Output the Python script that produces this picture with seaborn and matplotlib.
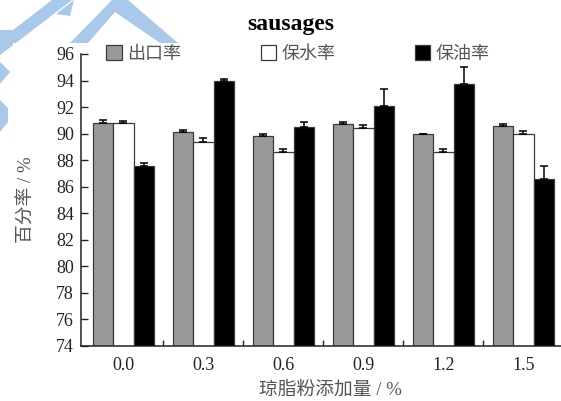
import numpy as np
import pandas as pd
import matplotlib
matplotlib.use('Agg')
import matplotlib.pyplot as plt
from matplotlib.patches import Polygon, Rectangle, Patch
import seaborn as sns

# data
doses = ['0.0', '0.3', '0.6', '0.9', '1.2', '1.5']
metrics = ['出口率', '保水率', '保油率']
yield_rate = [90.8, 90.15, 89.8, 90.7, 89.95, 90.55]
yield_err = [0.2, 0.15, 0.15, 0.15, 0.0, 0.15]
water_rate = [90.8, 89.35, 88.6, 90.45, 88.6, 89.95]
water_err = [0.15, 0.3, 0.25, 0.2, 0.25, 0.25]
oil_rate = [87.55, 93.95, 90.5, 92.1, 93.75, 86.55]
oil_err = [0.25, 0.2, 0.4, 1.25, 1.3, 1.0]
y_ticks = list(range(74, 97, 2))

colors = ['#999999', '#ffffff', '#000000']

sns.set_style('white')
plt.rcParams['font.family'] = ['Liberation Serif', 'Noto Sans CJK SC', 'DejaVu Sans']
plt.rcParams['axes.unicode_minus'] = False

df = pd.DataFrame({
    'dose': doses * 3,
    'metric': [metrics[0]] * 6 + [metrics[1]] * 6 + [metrics[2]] * 6,
    'value': yield_rate + water_rate + oil_rate,
})
errs = [yield_err, water_err, oil_err]

W, H = 561, 401
fig = plt.figure(figsize=(W / 100, H / 100), dpi=100)


def px(pts):
    return [(x / W, 1 - y / H) for x, y in pts]


# light blue watermark in the corner
wm = '#a9c9ea'
shapes = [
    [(0, 40), (52, 0), (72, 0), (0, 55)],
    [(56, 14), (74, 0), (70, 16)],
    [(70, 43), (112, 0), (128, 0), (178, 43), (160, 43), (115, 12), (88, 43)],
    [(0, 62), (10, 72), (0, 84)],
    [(0, 100), (8, 108), (8, 122), (0, 132)],
    [(0, 30), (32, 30), (0, 55)],
]
for s in shapes:
    fig.add_artist(Polygon(px(s), closed=True, transform=fig.transFigure,
                           facecolor=wm, edgecolor='none', zorder=0))
fig.add_artist(Rectangle((13 / W, 0), 1, 1 - 43 / H, transform=fig.transFigure,
                         facecolor='white', edgecolor='none', zorder=0.5))

ax = fig.add_axes([81 / W, 1 - 346 / H, (W - 81) / W, (346 - 54) / H])
ax.set_zorder(2)
ax.patch.set_alpha(0)

sns.barplot(data=df, x='dose', y='value', hue='metric', hue_order=metrics,
            order=doses, palette=colors, edgecolor='#3a3a3a', linewidth=0.9,
            width=0.77, errorbar=None, ax=ax, legend=False, zorder=2)

for cont, e in zip(ax.containers, errs):
    xs = [p.get_x() + p.get_width() / 2 for p in cont.patches]
    hs = [p.get_height() for p in cont.patches]
    ax.errorbar(xs, hs, yerr=[np.zeros(len(e)), e], fmt='none',
                ecolor='black', elinewidth=1.1, capsize=3, capthick=1.1, zorder=3)

ax.set_ylim(74, 96)
ax.set_xlim(-0.53, 5.47)
ax.set_yticks(y_ticks)
ax.set_xticks(range(len(doses)))
ax.set_xticklabels(doses)
ax.set_xticks(np.arange(0.5, 5, 1), minor=True)
ax.tick_params(axis='y', direction='in', length=5, width=1, labelsize=13,
               labelcolor='#222222', left=True, pad=5)
ax.tick_params(axis='x', which='major', length=0, labelsize=13,
               labelcolor='#222222', pad=8)
ax.tick_params(axis='x', which='minor', direction='in', length=4, width=1,
               bottom=True)
for side in ['top', 'right']:
    ax.spines[side].set_visible(False)
for side in ['left', 'bottom']:
    ax.spines[side].set_color('#222222')
    ax.spines[side].set_linewidth(1.1)

ax.set_ylabel('百分率 / %', fontsize=13.5, color='#555555')
ax.yaxis.set_label_coords(-0.095, 0.5)
ax.set_xlabel('琼脂粉添加量 / %', fontsize=13.5, color='#555555')
ax.xaxis.set_label_coords(0.519, -0.12)

handles = [Patch(facecolor=c, edgecolor='#3a3a3a', linewidth=0.9) for c in colors]
leg = ax.legend(handles, metrics, ncol=3, frameon=False, fontsize=13,
                loc='center left', bbox_to_anchor=(0.038, 1.0),
                handlelength=0.85, handleheight=0.85, handletextpad=0.3,
                columnspacing=4.4, borderaxespad=0)
for t in leg.get_texts():
    t.set_color('#555555')

fig.text(291 / W, 1 - 30 / H, 'sausages', ha='center', va='baseline',
         fontsize=17, fontweight='bold', family='Liberation Serif',
         color='black', zorder=3)

fig.savefig('out.png', dpi=100)
